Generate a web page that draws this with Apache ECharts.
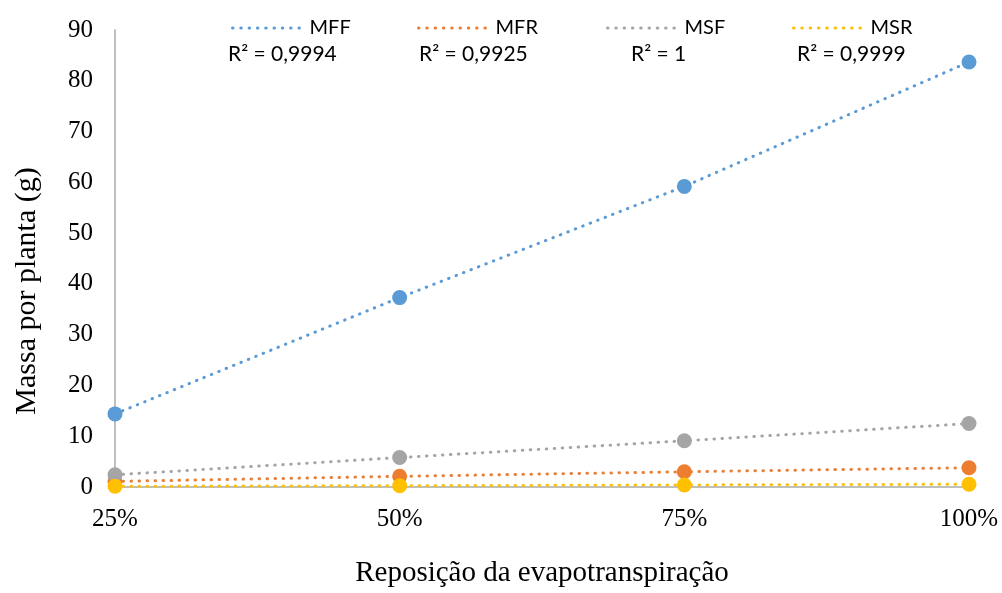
<!DOCTYPE html>
<html><head><meta charset="utf-8">
<script src="https://cdn.jsdelivr.net/npm/echarts@6/dist/echarts.min.js"></script>
<style>html,body{margin:0;padding:0;background:#fff}#c{width:1002px;height:593px}</style>
</head><body><div id="c"></div>
<script>
var categories = ['25%', '50%', '75%', '100%'];
var MFF = [14.4, 37.3, 59.2, 83.7];
var MFR = [1.1, 2.1, 3.0, 3.8];
var MSF = [2.4, 5.8, 9.1, 12.5];
var MSR = [0.15, 0.25, 0.4, 0.55];
var seriesNames = ['MFF', 'MFR', 'MSF', 'MSR'];
var r2Labels = ['R² = 0,9994', 'R² = 0,9925', 'R² = 1', 'R² = 0,9999'];
var yTicks = [0, 10, 20, 30, 40, 50, 60, 70, 80, 90];
var xTitle = 'Reposição da evapotranspiração';
var yTitle = 'Massa por planta (g)';

var colors = ['#5B9BD5', '#ED7D31', '#A5A5A5', '#FFC000'];
var dataSets = [MFF, MFR, MSF, MSR];
var dotted = {width: 3, type: [0.5, 7.5], cap: 'round'};

var series = [];
dataSets.forEach(function (d, i) {
  series.push({
    name: seriesNames[i], type: 'line', data: d, symbol: 'none',
    lineStyle: Object.assign({color: colors[i]}, dotted), z: 2, silent: true
  });
});
dataSets.forEach(function (d, i) {
  series.push({
    name: seriesNames[i] + ' pts', type: 'scatter', data: d, symbolSize: 15,
    itemStyle: {color: colors[i], opacity: 1}, z: 3
  });
});

var legendLeft = [226, 412, 601, 787];
var legends = seriesNames.map(function (n, i) {
  return {
    data: [n], left: legendLeft[i], top: 13, itemWidth: 72, itemHeight: 14, itemGap: 5,
    textStyle: {fontFamily: 'Lato', fontSize: 20, color: '#000'},
    itemStyle: {opacity: 0},
    lineStyle: {width: 3, type: [0.5, 7.8], cap: 'round'}
  };
});

var r2Left = [228, 419, 631, 797];
var graphics = r2Labels.map(function (t, i) {
  return {type: 'text', left: r2Left[i], top: 44,
    style: {text: t, fontFamily: 'Lato', fontSize: 21, fill: '#000'}};
});
graphics.push({type: 'text', x: 27, y: 291, rotation: Math.PI / 2,
  style: {text: yTitle, fontFamily: 'Liberation Serif', fontSize: 30, fill: '#000',
    align: 'center', verticalAlign: 'middle'}});

var chart = echarts.init(document.getElementById('c'));
chart.setOption({
  backgroundColor: '#fff',
  animation: false,
  color: colors,
  legend: legends,
  graphic: graphics,
  grid: {left: 115, right: 33, top: 30, bottom: 103, containLabel: false},
  xAxis: {
    type: 'category', data: categories, boundaryGap: false,
    axisLine: {lineStyle: {color: '#BFBFBF', width: 2}},
    axisTick: {show: false},
    axisLabel: {fontFamily: 'Liberation Serif', fontSize: 25, color: '#000', margin: 20},
    name: xTitle, nameLocation: 'middle', nameGap: 72,
    nameTextStyle: {fontFamily: 'Liberation Serif', fontSize: 29, color: '#000'}
  },
  yAxis: {
    type: 'value', min: yTicks[0], max: yTicks[yTicks.length - 1], interval: 10,
    axisLine: {show: true, lineStyle: {color: '#BFBFBF', width: 2}},
    axisTick: {show: false}, splitLine: {show: false},
    axisLabel: {fontFamily: 'Liberation Serif', fontSize: 25, color: '#000', margin: 22}
  },
  series: series
});
</script></body></html>
